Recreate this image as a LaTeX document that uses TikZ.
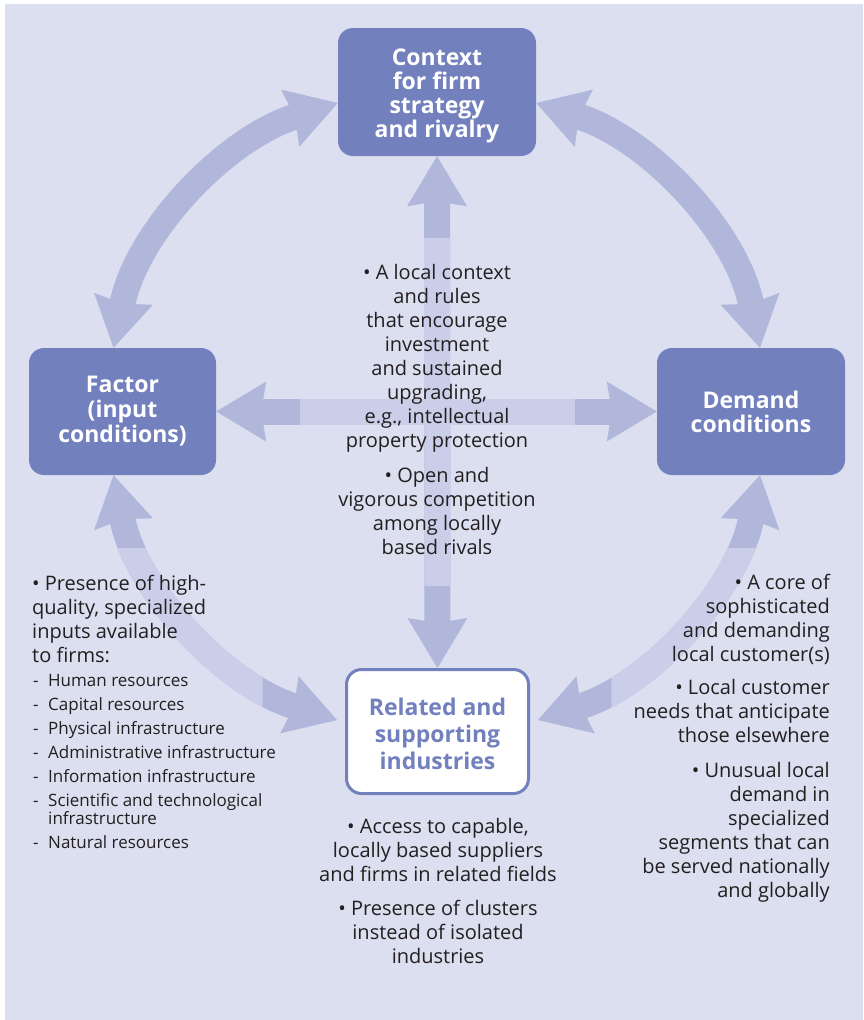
\documentclass[tikz,border=0pt]{standalone}
\usepackage{fontspec}
\setmainfont{Open Sans}
\usetikzlibrary{arrows.meta}
\definecolor{bgc}{HTML}{DCDFF0}
\definecolor{arrowd}{HTML}{B0B7DB}
\definecolor{arrowl}{HTML}{CBCEE9}
\definecolor{boxc}{HTML}{7280BE}
\definecolor{txtc}{HTML}{231F20}
\tikzset{bigtip/.tip={Stealth[width=60pt,length=50pt,inset=5pt,line width=0pt]}}
\begin{document}
\begin{tikzpicture}[x=1pt,y=-1pt,
  box/.style={fill=boxc, rounded corners=15pt, text=white, align=center, inner sep=0pt,
    font=\bfseries\fontsize{23}{24}\selectfont},
  relbox/.style={fill=white, draw=boxc, line width=3pt, rounded corners=15pt, text=boxc,
    align=center, inner sep=0pt, font=\bfseries\fontsize{23}{27}\selectfont},
  bigarrow/.style={draw=arrowd, line width=26pt, bigtip-bigtip},
  lightarrow/.style={draw=arrowl, line width=26pt},
  txt/.style={text=txtc, inner sep=0pt, font=\fontsize{20}{24}\selectfont},
  smalltxt/.style={text=txtc, inner sep=0pt, font=\fontsize{17}{24}\selectfont}
]
\useasboundingbox (0,0) rectangle (863,1020);
\fill[bgc] (5,4) rectangle (863,1020);

% boxes
\node[box, minimum width=198pt, minimum height=128pt] (ctx) at (437,92) {\rule{0pt}{24pt}Context\\for firm\\strategy\\and rivalry};
\node[box, minimum width=187pt, minimum height=127pt, font=\bfseries\fontsize{23}{25}\selectfont] (fac) at (122.5,411.5) {Factor\\(input\\conditions)};
\node[box, minimum width=188pt, minimum height=127pt] (dem) at (751,411.5) {Demand\\conditions};
\node[relbox, minimum width=182pt, minimum height=124pt] (rel) at (437.5,731.5) {\rule{0pt}{21.5pt}Related and\\supporting\\industries};

% straight arrows
\draw[bigarrow] (ctx.south) -- (rel.north);
\draw[bigarrow] (fac.east) -- (dem.west);
\draw[lightarrow, shorten <=82pt, shorten >=82pt] (ctx.south) -- (rel.north);
\draw[lightarrow, shorten <=84pt, shorten >=82pt] (fac.east) -- (dem.west);

% curved arrows
\draw[bigarrow] ([yshift=-11pt]ctx.west) to[out=197.7, in=78.5, looseness=0.914] ([xshift=-9pt]fac.north);
\draw[bigarrow] ([yshift=-11pt]ctx.east) to[out=342.3, in=101.5, looseness=0.914] ([xshift=9pt]dem.north);
\draw[bigarrow] ([xshift=-9pt]fac.south) to[out=281.5, in=162.3, looseness=0.914] ([xshift=-8pt,yshift=11.5pt]rel.west);
\draw[bigarrow] ([xshift=9pt]dem.south) to[out=258.5, in=17.7, looseness=0.914] ([xshift=8pt,yshift=11.5pt]rel.east);
\begin{scope}
  \clip (0,548) rectangle (262.7,1020);
  \draw[bigarrow, draw=arrowl] ([xshift=-9pt]fac.south) to[out=281.5, in=162.3, looseness=0.914] ([xshift=-8pt,yshift=11.5pt]rel.west);
\end{scope}
\begin{scope}
  \clip (611.3,548) rectangle (863,1020);
  \draw[bigarrow, draw=arrowl] ([xshift=9pt]dem.south) to[out=258.5, in=17.7, looseness=0.914] ([xshift=8pt,yshift=11.5pt]rel.east);
\end{scope}

% texts (base anchor = baseline of last line)
\node[txt, align=center, anchor=base] (ctxa) at (437,447) {• A local context\\and rules\\that encourage\\investment\\and sustained\\upgrading,\\e.g., intellectual\\property protection};
\node[txt, align=center, anchor=base] (ctxb) at (437,554) {• Open and\\vigorous competition\\among locally\\based rivals};
\node[txt, align=left, anchor=base west] (faca) at (32,662) {• Presence of high-\\quality, specialized\\inputs available\\to firms:};
\node[smalltxt, align=left, anchor=base west] (facb) at (33,848) {\makebox[15pt][l]{-}Human resources\\
\makebox[15pt][l]{-}Capital resources\\
\makebox[15pt][l]{-}Physical infrastructure\\
\makebox[15pt][l]{-}Administrative infrastructure\\
\makebox[15pt][l]{-}Information infrastructure\\
\makebox[15pt][l]{-}Scientific and technological\\[-6pt]
\makebox[15pt][l]{}infrastructure\\
\makebox[15pt][l]{-}Natural resources};
\node[txt, align=right, anchor=base east] (dema) at (830,897) {• A core of\\sophisticated\\and demanding\\local customer(s)\\[9pt]
• Local customer\\needs that anticipate\\those elsewhere\\[11pt]
• Unusual local\\demand in\\specialized\\segments that can\\be served nationally\\and globally};
\node[txt, align=center, anchor=base] (rela) at (438,963) {• Access to capable,\\locally based suppliers\\and firms in related fields\\[10pt]
• Presence of clusters\\instead of isolated\\industries};
\end{tikzpicture}
\end{document}
